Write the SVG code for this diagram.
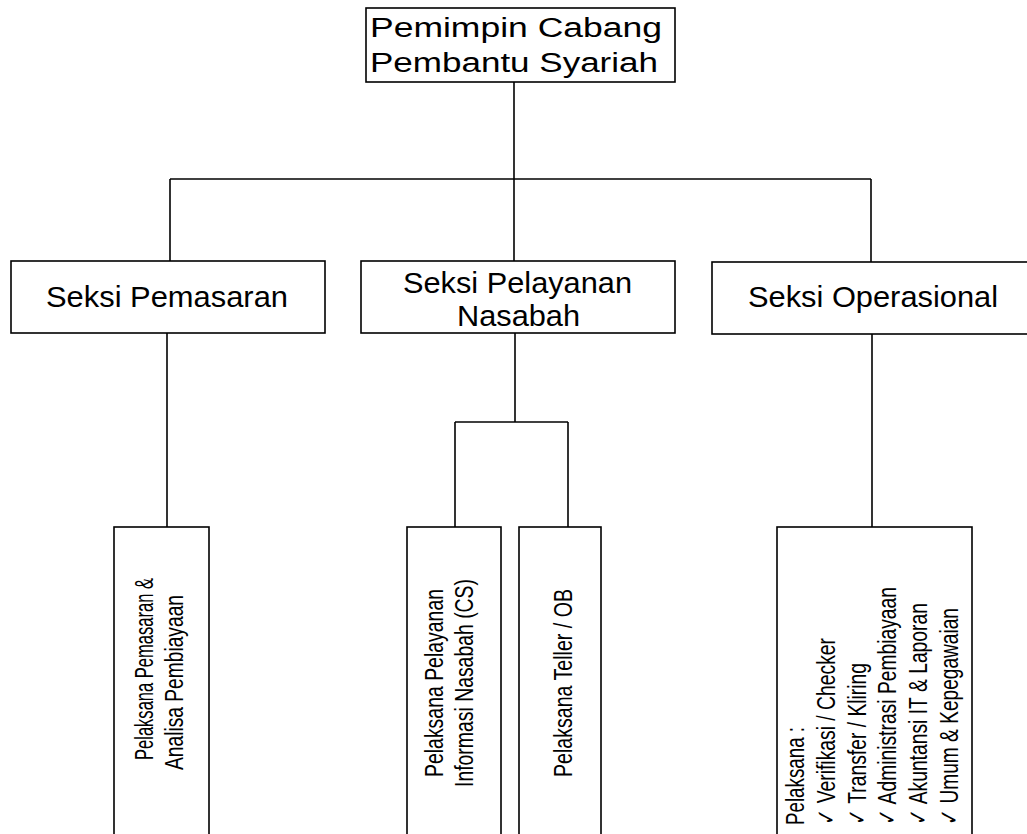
<svg xmlns="http://www.w3.org/2000/svg" width="1027" height="834" viewBox="0 0 1027 834">
<style>
.box{fill:#fff;stroke:#000;stroke-width:1.6}
.ln{fill:none;stroke:#000;stroke-width:1.6}
text{font-family:"Liberation Sans",Arial,sans-serif;fill:#000}
.t1{font-size:27px}
.t2{font-size:29px}
.t3{font-size:26px}
.ck{font-family:"DejaVu Sans","Liberation Sans",sans-serif;font-weight:300}
</style>
<rect width="1027" height="834" fill="#fff"/>
<g id="connectors">
<path class="ln" d="M514,82 V261"/>
<path class="ln" d="M170,179 H871"/>
<path class="ln" d="M170,179 V261"/>
<path class="ln" d="M871,179 V262"/>
<path class="ln" d="M167,333 V527"/>
<path class="ln" d="M515,333 V422"/>
<path class="ln" d="M455,422 H568"/>
<path class="ln" d="M455,422 V527"/>
<path class="ln" d="M568,422 V527"/>
<path class="ln" d="M872,334 V527"/>
</g>
<g id="pemimpin">
<rect class="box" x="366" y="8" width="309" height="74"/>
<text class="t1" x="370" y="37" textLength="292" lengthAdjust="spacingAndGlyphs">Pemimpin Cabang</text>
<text class="t1" x="370" y="72" textLength="288" lengthAdjust="spacingAndGlyphs">Pembantu Syariah</text>
</g>
<g id="seksi-pemasaran">
<rect class="box" x="11" y="261" width="314" height="72"/>
<text class="t2" x="46" y="307" textLength="242" lengthAdjust="spacingAndGlyphs">Seksi Pemasaran</text>
</g>
<g id="seksi-pelayanan">
<rect class="box" x="361" y="261" width="314" height="72"/>
<text class="t2" x="403" y="293" textLength="229" lengthAdjust="spacingAndGlyphs">Seksi Pelayanan</text>
<text class="t2" x="457" y="326" textLength="123" lengthAdjust="spacingAndGlyphs">Nasabah</text>
</g>
<g id="seksi-operasional">
<rect class="box" x="712" y="262" width="325" height="72"/>
<text class="t2" x="748" y="307" textLength="250" lengthAdjust="spacingAndGlyphs">Seksi Operasional</text>
</g>
<g id="pelaksana-pemasaran">
<rect class="box" x="114" y="527" width="95" height="320"/>
<text class="t3" transform="translate(153,760) rotate(-90)" textLength="182" lengthAdjust="spacingAndGlyphs">Pelaksana Pemasaran &amp;</text>
<text class="t3" transform="translate(183,770) rotate(-90)" textLength="175" lengthAdjust="spacingAndGlyphs">Analisa Pembiayaan</text>
</g>
<g id="pelaksana-cs">
<rect class="box" x="407" y="527" width="94" height="320"/>
<text class="t3" transform="translate(443,777) rotate(-90)" textLength="188" lengthAdjust="spacingAndGlyphs">Pelaksana Pelayanan</text>
<text class="t3" transform="translate(473,787) rotate(-90)" textLength="208" lengthAdjust="spacingAndGlyphs">Informasi Nasabah (CS)</text>
</g>
<g id="pelaksana-teller">
<rect class="box" x="519" y="527" width="82" height="320"/>
<text class="t3" transform="translate(572,777) rotate(-90)" textLength="188" lengthAdjust="spacingAndGlyphs">Pelaksana Teller / OB</text>
</g>
<g id="pelaksana-operasional">
<rect class="box" x="777" y="527" width="195" height="320"/>
<text class="t3" transform="translate(804,825) rotate(-90)" textLength="98" lengthAdjust="spacingAndGlyphs">Pelaksana :</text>
<text class="t3" transform="translate(835,825) rotate(-90)" textLength="187" lengthAdjust="spacingAndGlyphs"><tspan class="ck">✓</tspan> Verifikasi / Checker</text>
<text class="t3" transform="translate(866,825) rotate(-90)" textLength="162" lengthAdjust="spacingAndGlyphs"><tspan class="ck">✓</tspan> Transfer / Kliring</text>
<text class="t3" transform="translate(896,825) rotate(-90)" textLength="238" lengthAdjust="spacingAndGlyphs"><tspan class="ck">✓</tspan> Administrasi Pembiayaan</text>
<text class="t3" transform="translate(927,825) rotate(-90)" textLength="222" lengthAdjust="spacingAndGlyphs"><tspan class="ck">✓</tspan> Akuntansi IT &amp; Laporan</text>
<text class="t3" transform="translate(958,825) rotate(-90)" textLength="217" lengthAdjust="spacingAndGlyphs"><tspan class="ck">✓</tspan> Umum &amp; Kepegawaian</text>
</g>
</svg>
